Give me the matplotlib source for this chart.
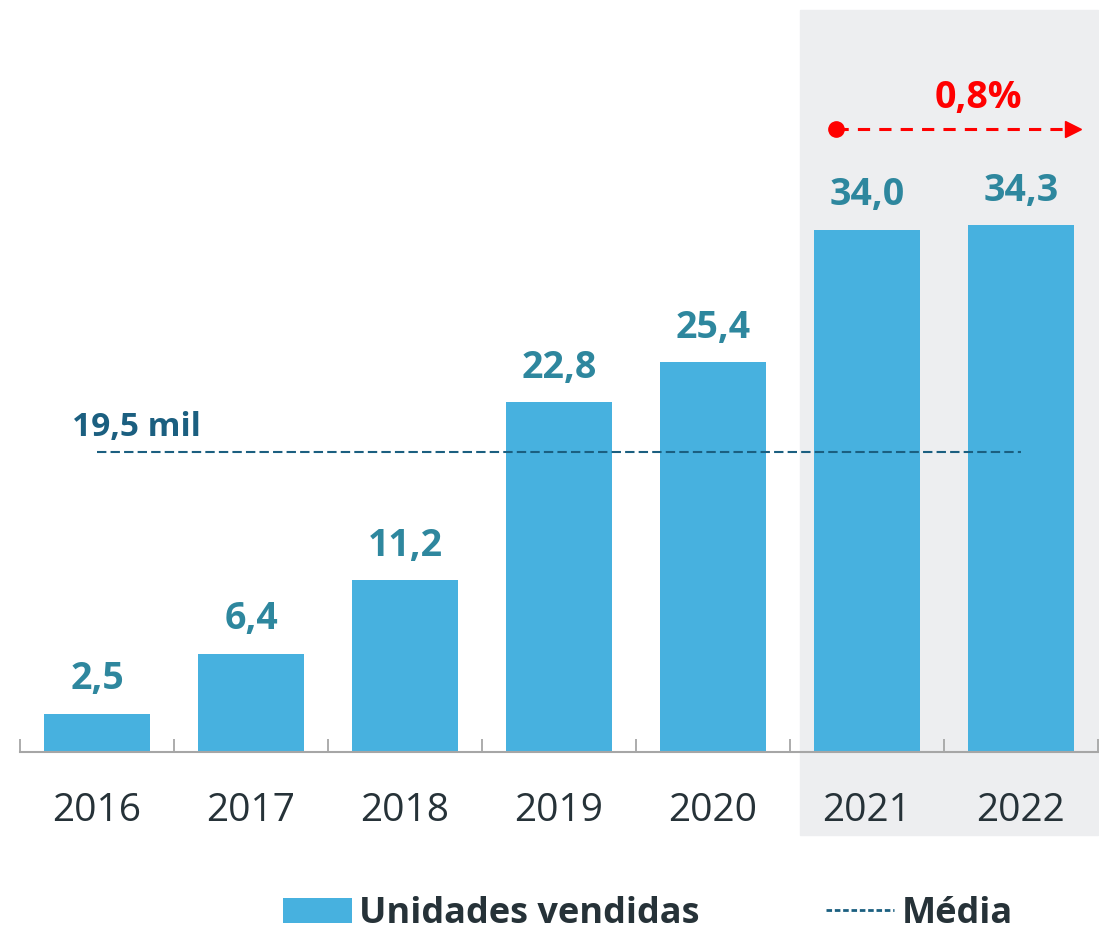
import numpy as np
import matplotlib
matplotlib.use('Agg')
import matplotlib.pyplot as plt
from matplotlib.patches import Rectangle
from matplotlib.lines import Line2D

plt.rcParams['font.family'] = ['Open Sans', 'DejaVu Sans']

# data (mil unidades)
years = ['2016', '2017', '2018', '2019', '2020', '2021', '2022']
sales = [2.5, 6.4, 11.2, 22.8, 25.4, 34.0, 34.3]
growth_label = '0,8%'
avg = round(np.mean(sales), 1)

bar_color = '#47B1DF'
label_color = '#2E879E'
avg_color = '#1B5F80'
dark = '#263238'
red = '#FF0000'

fig = plt.figure(figsize=(10.99, 9.30), dpi=100)

# grey highlight behind the last two years
fig.patches.append(Rectangle((800 / 1099, 95 / 930), 298 / 1099, 825 / 930,
                             transform=fig.transFigure, color='#EDEEF0', zorder=-1))

ax = fig.add_axes([20 / 1099, 178 / 930, 1078 / 1099, 742 / 930])
ax.patch.set_visible(False)

x = np.arange(len(years))
bars = ax.bar(x, sales, width=0.69, color=bar_color, zorder=2, label='Unidades vendidas')

# value labels above bars
for xi, v in zip(x, sales):
    ax.annotate(f'{v:.1f}'.replace('.', ','), (xi, v), xytext=(0, 11),
                textcoords='offset points', ha='center', va='bottom',
                fontsize=27, fontweight='bold', color=label_color)

# average line
avg_line = ax.hlines(avg, x[0], x[-1], colors=avg_color, linestyles=(0, (4.5, 2)),
                     linewidth=1.5, zorder=3)
ax.text(-0.16, avg + 1.07, f'{avg:.1f}'.replace('.', ',') + ' mil',
        ha='left', va='baseline', fontsize=24, fontweight='bold', color=avg_color)

# growth arrow 2021 -> 2022
ya = 40.56
ax.plot([4.80, 6.32], [ya, ya], color=red, linestyle=(0, (4, 3)), linewidth=2.2, zorder=4)
ax.plot(4.80, ya, 'o', color=red, markersize=11, zorder=5)
ax.plot(6.34, ya, '>', color=red, markersize=11, zorder=5)
ax.text(5.72, ya + 0.75, growth_label, ha='center', va='bottom',
        fontsize=27, fontweight='bold', color=red)

ax.set_xlim(-0.5, len(years) - 0.5)
ax.set_ylim(0, 742 / 15.36)

ax.set_xticks(x)
ax.set_xticklabels(years, fontsize=28, color=dark)
ax.tick_params(axis='x', which='major', length=0, pad=29)
ax.set_xticks(np.arange(-0.5, len(years)), minor=True)
ax.tick_params(axis='x', which='minor', length=9.5, width=1.3, direction='in', color='#A6A6A6')
ax.set_yticks([])
for s in ['top', 'right', 'left']:
    ax.spines[s].set_visible(False)
ax.spines['bottom'].set_color('#A6A6A6')
ax.spines['bottom'].set_linewidth(1.5)

handles = [bars, Line2D([], [], color=avg_color, linestyle=(0, (2, 1)), linewidth=2)]
leg = fig.legend(handles, ['Unidades vendidas', 'Média'], loc='center',
                 bbox_to_anchor=(648 / 1099, 1 - 914 / 930), ncol=2, frameon=False,
                 prop={'size': 26, 'weight': 'bold'}, handlelength=1.9, handleheight=0.7,
                 handletextpad=0.2, columnspacing=3.5)
for t in leg.get_texts():
    t.set_color(dark)

fig.savefig('out.png', dpi=100)
